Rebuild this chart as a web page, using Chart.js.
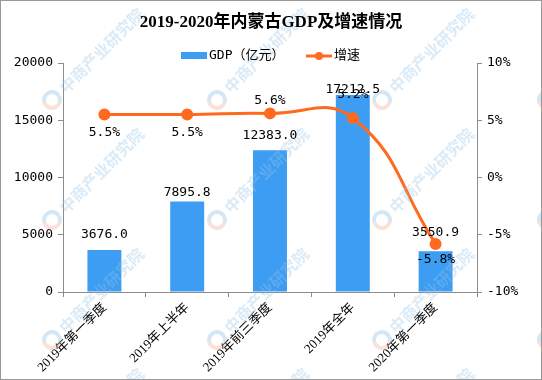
<!DOCTYPE html>
<html lang="zh">
<head>
<meta charset="UTF-8">
<title>2019-2020年内蒙古GDP及增速情况</title>
<script src="https://cdn.jsdelivr.net/npm/chart.js"></script>
<style>
  html, body { margin: 0; padding: 0; background: #fff; }
  #wrap { width: 542px; height: 380px; }
</style>
</head>
<body>
<div id="wrap"><canvas id="gdpChart" width="542" height="380"></canvas></div>
<script>
  const categories = ['2019年第一季度', '2019年上半年', '2019年前三季度', '2019年全年', '2020年第一季度'];
  const gdpValues = [3676.0, 7895.8, 12383.0, 17212.5, 3550.9];
  const growthValues = [5.5, 5.5, 5.6, 5.2, -5.8];
  const gdpTicks = [0, 5000, 10000, 15000, 20000];
  const growthTicks = [-10, -5, 0, 5, 10];

  // label nudges (px, relative to mark top / point)
  const barLabelShift = [-15, -9, -15, -5, -19];
  const lineLabelShift = [18, 18, -13, -23, 16];

  const mono = '"DejaVu Sans Mono", "Noto Sans CJK SC", monospace';
  const cjk = '"Liberation Serif", "Noto Sans CJK SC", serif';
  const BLUE = '#3D9DF2';
  const ORANGE = '#FF6A1F';
  const AXIS = '#8c8c8c';

  const watermark = {
    id: 'watermark',
    afterDatasetsDraw(chart) {
      const ctx = chart.ctx;
      ctx.save();
      for (let x = -113; x < 600; x += 165) {
        for (let y = -20; y < 500; y += 120) {
          ctx.save();
          ctx.translate(x, y);
          ctx.lineWidth = 4;
          ctx.strokeStyle = 'rgba(240,170,150,0.35)';
          ctx.beginPath(); ctx.arc(0, 0, 8, Math.PI * 0.1, Math.PI * 0.9); ctx.stroke();
          ctx.strokeStyle = 'rgba(150,195,230,0.4)';
          ctx.beginPath(); ctx.arc(0, 0, 8, Math.PI * 0.9, Math.PI * 2.1); ctx.stroke();
          ctx.rotate(-Math.PI / 4);
          ctx.fillStyle = 'rgba(150,195,230,0.35)';
          ctx.font = 'bold 16px "Noto Sans CJK SC"';
          ctx.textBaseline = 'middle';
          ctx.fillText('中商产业研究院', 14, 0);
          ctx.restore();
        }
      }
      ctx.restore();
    }
  };

  const labelsAndFrame = {
    id: 'labelsAndFrame',
    afterDraw(chart) {
      const ctx = chart.ctx;
      ctx.save();
      ctx.fillStyle = '#000';
      ctx.textAlign = 'center';
      ctx.textBaseline = 'middle';
      ctx.font = '13px ' + mono;
      chart.getDatasetMeta(1).data.forEach((bar, i) => {
        ctx.fillText(gdpValues[i].toFixed(1), bar.x, bar.y + barLabelShift[i]);
      });
      chart.getDatasetMeta(0).data.forEach((pt, i) => {
        ctx.fillText(growthValues[i].toFixed(1) + '%', pt.x, pt.y + lineLabelShift[i]);
      });

      // title
      ctx.font = 'bold 17px ' + cjk;
      ctx.fillText('2019-2020年内蒙古GDP及增速情况', 271, 23);

      // legend
      ctx.fillStyle = BLUE;
      ctx.fillRect(181, 52, 26, 7);
      ctx.fillStyle = '#000';
      ctx.textAlign = 'left';
      ctx.font = '13px ' + mono;
      ctx.fillText('GDP（亿元）', 209, 56);
      ctx.strokeStyle = ORANGE;
      ctx.lineWidth = 3;
      ctx.beginPath(); ctx.moveTo(306, 56); ctx.lineTo(332, 56); ctx.stroke();
      ctx.fillStyle = ORANGE;
      ctx.beginPath(); ctx.arc(319, 56, 4, 0, Math.PI * 2); ctx.fill();
      ctx.fillStyle = '#000';
      ctx.fillText('增速', 334, 56);

      ctx.strokeStyle = '#999';
      ctx.lineWidth = 1;
      ctx.strokeRect(0.5, 0.5, 541, 379);
      ctx.restore();
    }
  };

  const axisGrid = { display: true, drawOnChartArea: false, drawTicks: true, tickLength: 5, color: AXIS };

  new Chart(document.getElementById('gdpChart'), {
    data: {
      labels: categories,
      datasets: [{
        type: 'line',
        label: '增速',
        data: growthValues,
        yAxisID: 'y1',
        borderColor: ORANGE,
        backgroundColor: ORANGE,
        borderWidth: 3,
        pointRadius: 4.5,
        pointHoverRadius: 4.5,
        tension: 0.45,
        order: 0
      }, {
        type: 'bar',
        label: 'GDP（亿元）',
        data: gdpValues,
        yAxisID: 'y',
        backgroundColor: BLUE,
        barPercentage: 0.41,
        categoryPercentage: 1,
        order: 1
      }]
    },
    options: {
      responsive: false,
      animation: false,
      layout: { padding: { top: 63, left: 0, right: 0, bottom: 0 } },
      plugins: {
        legend: { display: false },
        title: { display: false },
        tooltip: { enabled: false }
      },
      scales: {
        x: {
          grid: axisGrid,
          border: { color: AXIS },
          ticks: {
            color: '#000',
            font: { family: cjk, size: 13 },
            minRotation: 45,
            maxRotation: 45,
            padding: 3
          },
          afterFit: s => { s.height = 88; }
        },
        y: {
          position: 'left',
          min: gdpTicks[0],
          max: gdpTicks[gdpTicks.length - 1],
          afterBuildTicks: s => { s.ticks = gdpTicks.map(v => ({ value: v })); },
          grid: axisGrid,
          border: { color: AXIS },
          ticks: { color: '#000', font: { family: mono, size: 13 }, padding: 5, callback: v => String(v) },
          afterFit: s => { s.width = 63; }
        },
        y1: {
          position: 'right',
          min: growthTicks[0],
          max: growthTicks[growthTicks.length - 1],
          afterBuildTicks: s => { s.ticks = growthTicks.map(v => ({ value: v })); },
          grid: axisGrid,
          border: { color: AXIS },
          ticks: { color: '#000', font: { family: mono, size: 13 }, padding: 5, callback: v => v + '%' },
          afterFit: s => { s.width = 65; }
        }
      }
    },
    plugins: [watermark, labelsAndFrame]
  });
</script>
</body>
</html>
